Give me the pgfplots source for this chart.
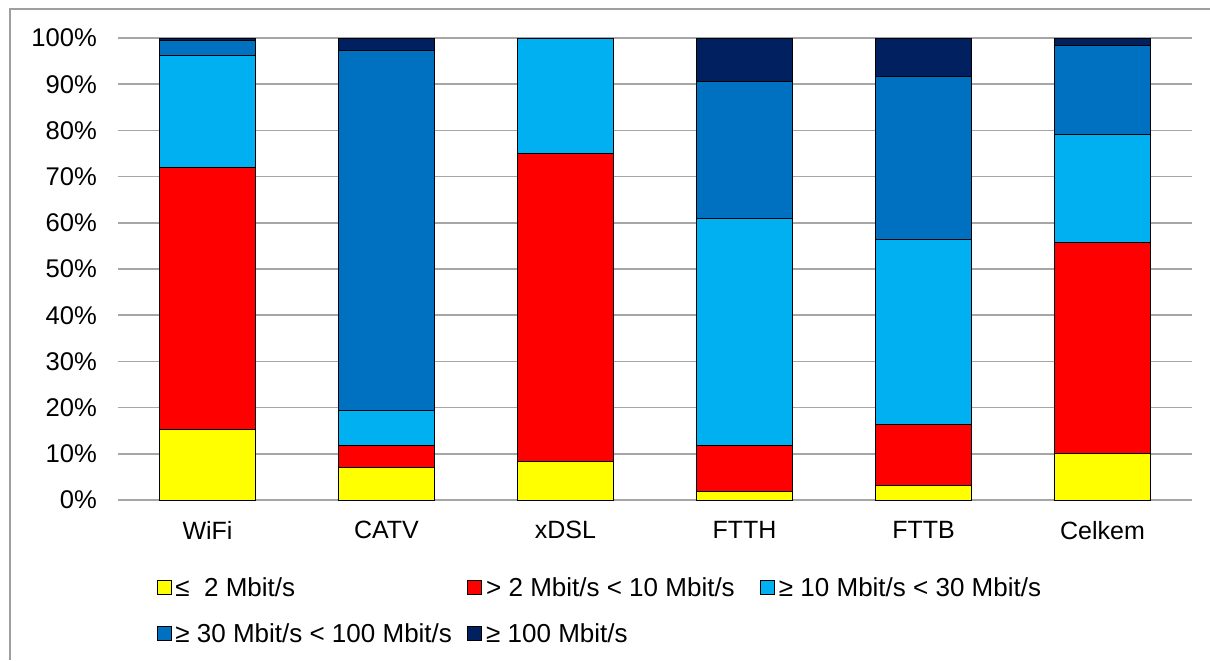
\documentclass[border=0pt]{standalone}
\usepackage{pgfplots}
\pgfplotsset{compat=1.18}
\usepackage{fontspec}
\setmainfont{Liberation Sans}
\definecolor{cY}{HTML}{FFFF00}
\definecolor{cR}{HTML}{FF0000}
\definecolor{cL}{HTML}{00B0F0}
\definecolor{cM}{HTML}{0070C0}
\definecolor{cN}{HTML}{002060}
\definecolor{gridc}{HTML}{A6A6A6}
\begin{document}
\begin{tikzpicture}
\path[use as bounding box] (-59pt,-80pt) rectangle (546pt,250pt);
\begin{axis}[
  at={(0,0)}, anchor=south west,
  scale only axis, width=537pt, height=231pt,
  ybar stacked, bar width=48pt,
  xmin=-0.5, xmax=5.5, ymin=0, ymax=100,
  xtick={0,1,2,3,4,5},
  xticklabels={WiFi,CATV,xDSL,FTTH,FTTB,Celkem},
  ytick={0,10,...,100},
  yticklabel={\pgfmathprintnumber[assume math mode=true]{\tick}\%},
  ymajorgrids, grid style={gridc, line width=0.8pt},
  axis line style={draw=none},
  major tick length=0pt,
  yticklabel style={font=\fontsize{12.8}{14}\selectfont, xshift=-7pt},
  xticklabel style={font=\fontsize{12.5}{14}\selectfont, yshift=-7pt},
  every axis plot/.append style={draw=black, line width=0.5pt},
  legend columns=3,
  legend style={draw=none, fill=none, at={(0,0)}, anchor=north west,
    inner sep=0pt, outer sep=0pt,
    xshift=19.3pt, yshift=-38.9pt,
    font=\fontsize{13}{15}\selectfont,
    nodes={inner sep=0pt, text height=9.5pt, text depth=3pt, anchor=base west},
    /tikz/every odd column/.style={column sep=2pt},
    /tikz/every even column/.style={column sep=0pt},
    row sep=10.5pt},
  legend image code/.code={\draw[#1, draw=black, line width=0.4pt] (0pt,1pt) rectangle (7pt,8pt);},
]
\addplot[fill=cY] coordinates {(0,15.2) (1,7.1) (2,8.3) (3,1.9) (4,3.2) (5,10.0)};
\addplot[fill=cR] coordinates {(0,56.7) (1,4.8) (2,66.7) (3,10.0) (4,13.1) (5,45.8)};
\addplot[fill=cL] coordinates {(0,24.4) (1,7.4) (2,25.0) (3,49.1) (4,40.0) (5,23.4)};
\addplot[fill=cM] coordinates {(0,3.2) (1,77.9) (2,0) (3,29.5) (4,35.3) (5,19.1)};
\addplot[fill=cN] coordinates {(0,0.5) (1,2.8) (2,0) (3,9.5) (4,8.4) (5,1.7)};
\legend{\makebox[146pt][l]{≤\ \ 2 Mbit/s},
        \makebox[137pt][l]{> 2 Mbit/s < 10 Mbit/s},
        ≥ 10 Mbit/s < 30 Mbit/s,
        \makebox[146pt][l]{≥ 30 Mbit/s < 100 Mbit/s},
        \makebox[137pt][l]{≥ 100 Mbit/s}}
\end{axis}
\draw[gray!75, line width=1.2pt] (-54pt,-80pt) -- (-54pt,245.5pt) -- (546pt,245.5pt);
\end{tikzpicture}
\end{document}
